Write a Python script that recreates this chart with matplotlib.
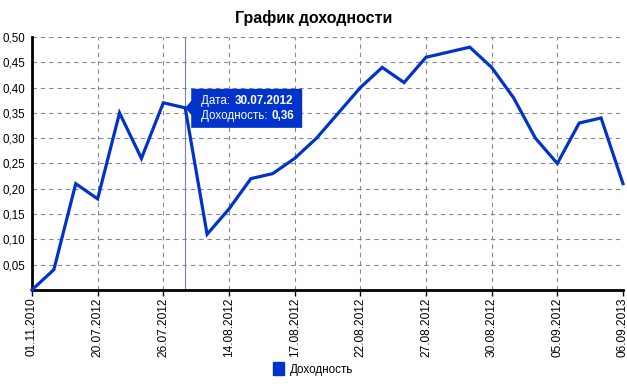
import matplotlib
matplotlib.use("Agg")
import matplotlib.pyplot as plt
from matplotlib.patches import Polygon, Patch

plt.rcParams['font.family'] = ['Liberation Sans', 'DejaVu Sans']

# доходность по точкам
values = [0, 0.04, 0.21, 0.18, 0.35, 0.26, 0.37, 0.36, 0.11, 0.16, 0.22, 0.23, 0.26, 0.30,
          0.35, 0.40, 0.44, 0.41, 0.46, 0.47, 0.48, 0.44, 0.38, 0.30, 0.25, 0.33, 0.34, 0.21]
tick_labels = ['01.11.2010', '20.07.2012', '26.07.2012', '14.08.2012', '17.08.2012',
               '22.08.2012', '27.08.2012', '30.08.2012', '05.09.2012', '06.09.2013']
yticks = [0.05, 0.10, 0.15, 0.20, 0.25, 0.30, 0.35, 0.40, 0.45, 0.50]
hover_idx = 7
hover_date = '30.07.2012'

blue = '#0033cc'

fig = plt.figure(figsize=(6.27, 3.86), dpi=100)
ax = fig.add_axes([0.051, 0.249, 0.9426, 0.655])

x = list(range(len(values)))
ax.plot(x, values, color=blue, lw=2.3, solid_joinstyle='miter', zorder=3, clip_on=False)

ax.set_xlim(0, len(values) - 1)
ax.set_ylim(0, 0.5)
tick_pos = list(range(0, len(values), 3))
ax.set_xticks(tick_pos)
ax.set_xticklabels(tick_labels, rotation=90, fontsize=8.6)
ax.set_yticks(yticks)
ax.set_yticklabels([f'{v:.2f}'.replace('.', ',') for v in yticks], fontsize=8.3)

ax.grid(True, color='#888888', ls=(0, (4, 3.5)), lw=0.8)
ax.tick_params(axis='y', length=0, pad=5)
ax.tick_params(axis='x', length=4, width=1, pad=1.5, direction='out')
for s in ['top', 'right']:
    ax.spines[s].set_visible(False)
ax.spines['left'].set_linewidth(2)
ax.spines['bottom'].set_linewidth(2)

# вертикальная линия курсора
ax.axvline(hover_idx, color='#7a7ad0', lw=0.8, zorder=2)

fig.suptitle('График доходности', x=0.5, y=0.975, fontsize=11.5, fontweight='bold')

# подсказка
fig.canvas.draw()
renderer = fig.canvas.get_renderer()
px, py = ax.transData.transform((hover_idx, values[hover_idx]))
box = Polygon([(px, py), (px + 6, py + 7), (px + 6, py + 19), (px + 117, py + 19),
               (px + 117, py - 20), (px + 6, py - 20), (px + 6, py - 7)],
              closed=True, fc=blue, ec='none', transform=None, zorder=5)
fig.patches.append(box)
hv = f'{values[hover_idx]:.2f}'.replace('.', ',')
kw = dict(transform=None, color='white', fontsize=8.4, va='center', ha='left', zorder=6)
for dy, label, val in [(7, 'Дата: ', hover_date), (-8, 'Доходность: ', hv)]:
    t = fig.text(px + 16, py + dy, label, **kw)
    w = t.get_window_extent(renderer).width
    fig.text(px + 16 + w + 1, py + dy, val, fontweight='bold', **kw)

fig.legend(handles=[Patch(fc=blue, ec=blue, label='Доходность')], loc='lower center',
           bbox_to_anchor=(0.5, 0.0), frameon=False, fontsize=8.4,
           handlelength=0.95, handleheight=1.3, handletextpad=0.5)

fig.savefig('out.png', dpi=100)
